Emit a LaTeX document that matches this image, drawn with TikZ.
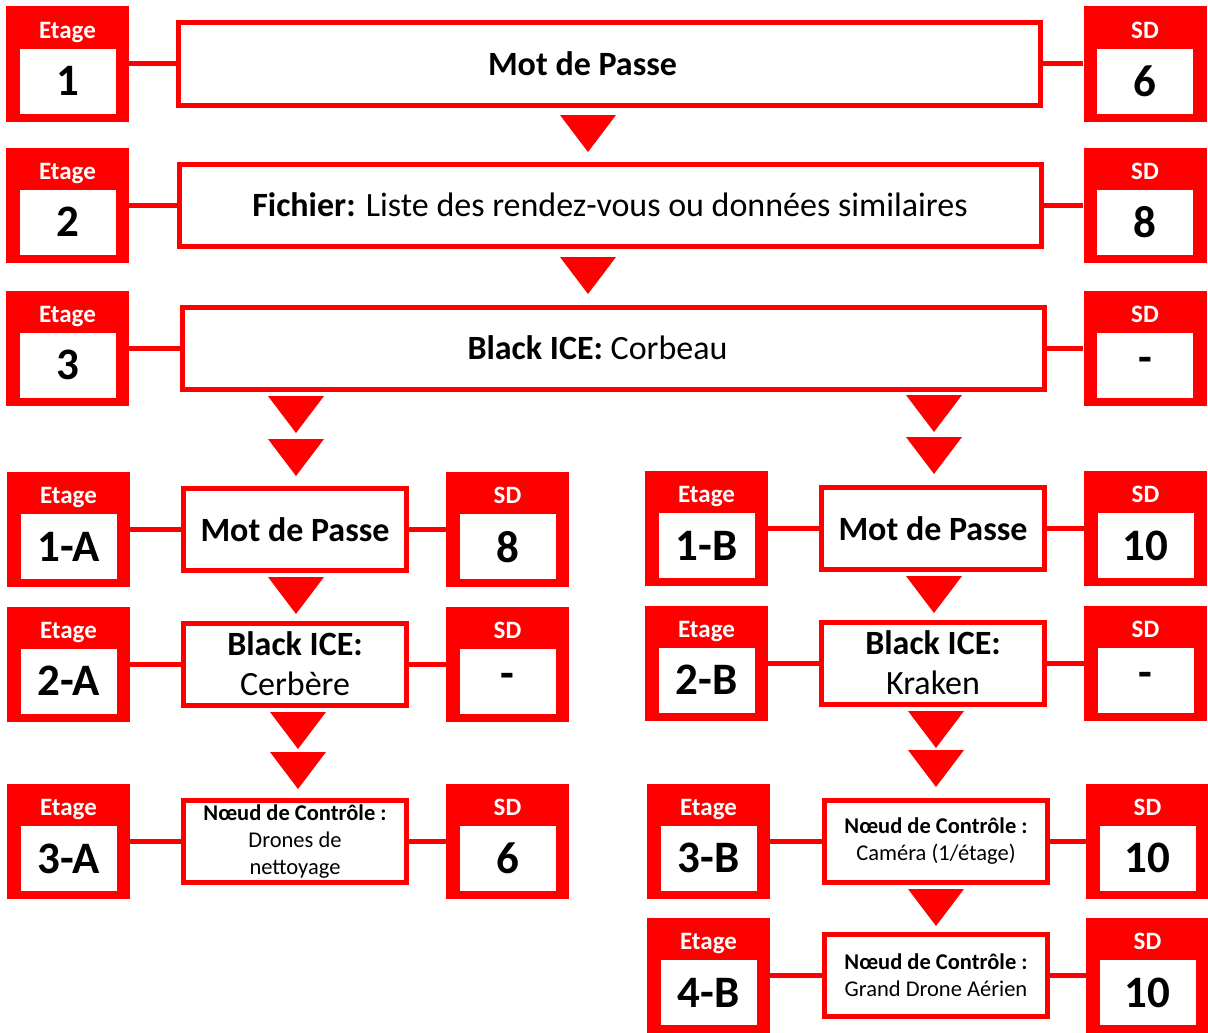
\documentclass[tikz,border=0pt]{standalone}
\usepackage{fontspec}
\setmainfont{Carlito}
\usetikzlibrary{positioning}
\definecolor{ered}{RGB}{255,0,0}

\tikzset{
  redblock/.style={fill=ered, minimum width=123pt, minimum height=115pt, inner sep=0pt},
  headtext/.style={text=white, font=\fontsize{25}{28}\selectfont\bfseries, anchor=base, inner sep=0pt},
  valbox/.style={fill=white, minimum width=96pt, minimum height=65pt, inner sep=0pt,
    font=\fontsize{45}{48}\selectfont\bfseries},
  stepbox/.style={draw=ered, line width=5pt, fill=white, inner sep=0pt, align=center,
    font=\fontsize{34}{40}\selectfont},
  widebox/.style={stepbox, minimum width=862pt, minimum height=82pt},
  halfbox/.style={stepbox, minimum width=223pt, minimum height=82pt},
  ctrlbox/.style={halfbox, font=\fontsize{22.5}{27}\selectfont},
  link/.style={draw=ered, line width=5pt},
  downtri/.pic={\fill[ered] (-28,0) -- (28,0) -- (0,37) -- cycle;}
}

% red block with header and value
\newcommand{\levelbox}[5]{%
  \node[redblock] (#1) at (#2,#3) {};
  \node[headtext] (#1h) at ([yshift=-32pt]#1.north) {#4};
  \node[valbox] (#1v) at ([yshift=40.5pt]#1.south) {#5};
}

\begin{document}
\begin{tikzpicture}[x=1pt,y=-1pt]
  \useasboundingbox (0,0) rectangle (1208,1033);
  % main chain
  \levelbox{e1}{67.5}{64}{Etage}{1}
  \node[widebox] (m1) at (609.5,64) {\textbf{Mot de Passe}\hspace*{54pt}};
  \levelbox{s1}{1145}{64}{SD}{6}
  \levelbox{e2}{67.5}{205}{Etage}{2}
  \node[widebox] (m2) at (610,205) {\textbf{Fichier:} Liste des rendez-vous ou données similaires};
  \levelbox{s2}{1145}{205}{SD}{8}
  \levelbox{e3}{67.5}{348}{Etage}{3}
  \node[widebox] (m3) at (613.5,348) {\textbf{Black ICE:} Corbeau\hspace*{32pt}};
  \levelbox{s3}{1145}{348}{SD}{-}
  \draw[link] (e1) -- (m1) (m1) -- (s1);
  \draw[link] (e2) -- (m2) (m2) -- (s2);
  \draw[link] (e3) -- (m3) (m3) -- (s3);
  \pic at (588,115) {downtri};
  \pic at (588,257) {downtri};
  %
  % branch A
  \levelbox{a1}{68.5}{529.5}{Etage}{1-A}
  \node[halfbox] (ma1) at (295,529.5) {\textbf{Mot de Passe}};
  \levelbox{sa1}{507.5}{529.5}{SD}{8}
  \levelbox{a2}{68.5}{664}{Etage}{2-A}
  \node[halfbox] (ma2) at (295,664) {\textbf{Black ICE:}\\Cerbère};
  \levelbox{sa2}{507.5}{664}{SD}{-}
  \levelbox{a3}{68.5}{841.5}{Etage}{3-A}
  \node[ctrlbox] (ma3) at (295,841.5) {\textbf{Nœud de Contrôle :}\\Drones de\\nettoyage};
  \levelbox{sa3}{507.5}{841.5}{SD}{6}
  \draw[link] (a1) -- (ma1) (ma1) -- (sa1);
  \draw[link] (a2) -- (ma2) (ma2) -- (sa2);
  \draw[link] (a3) -- (ma3) (ma3) -- (sa3);
  \pic at (296,396) {downtri};
  \pic at (296,439) {downtri};
  \pic at (296,577) {downtri};
  \pic at (298,712) {downtri};
  \pic at (298,752) {downtri};
  %
  % branch B
  \levelbox{b1}{706.5}{528.5}{Etage}{1-B}
  \node[halfbox] (mb1) at (933,528.5) {\textbf{Mot de Passe}};
  \levelbox{sb1}{1145.5}{528.5}{SD}{10}
  \levelbox{b2}{706.5}{663}{Etage}{2-B}
  \node[halfbox] (mb2) at (933,663) {\textbf{Black ICE:}\\Kraken};
  \levelbox{sb2}{1145.5}{663}{SD}{-}
  \levelbox{b3}{708.5}{841}{Etage}{3-B}
  \node[ctrlbox] (mb3) at (936,841) {\textbf{Nœud de Contrôle :}\\Caméra (1/étage)};
  \levelbox{sb3}{1147.5}{841}{SD}{10}
  \levelbox{b4}{708.5}{975.5}{Etage}{4-B}
  \node[ctrlbox] (mb4) at (936,975.5) {\textbf{Nœud de Contrôle :}\\Grand Drone Aérien};
  \levelbox{sb4}{1147.5}{975.5}{SD}{10}
  \draw[link] (b1) -- (mb1) (mb1) -- (sb1);
  \draw[link] (b2) -- (mb2) (mb2) -- (sb2);
  \draw[link] (b3) -- (mb3) (mb3) -- (sb3);
  \draw[link] (b4) -- (mb4) (mb4) -- (sb4);
  \pic at (934,395) {downtri};
  \pic at (934,437) {downtri};
  \pic at (934,576) {downtri};
  \pic at (936,711) {downtri};
  \pic at (936,750) {downtri};
  \pic at (936,889) {downtri};
\end{tikzpicture}
\end{document}
